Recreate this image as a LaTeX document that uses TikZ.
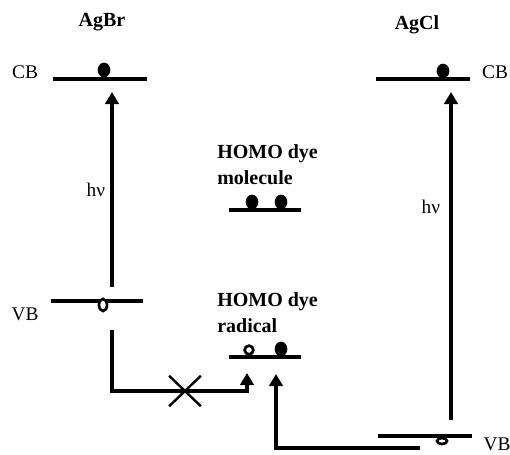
\documentclass[tikz,border=0pt]{standalone}
\usepackage{fontspec}
\setmainfont{Liberation Serif}
\usetikzlibrary{arrows.meta,shapes.geometric,shapes.misc}

\begin{document}
\begin{tikzpicture}[x=.75pt,y=-.75pt,>={Triangle[width=10pt,length=9pt]},
      level/.style={line width=2.4pt,draw=black},
      flow/.style={->,line width=2.4pt,draw=black},
      elec/.style={ellipse,fill=black,inner sep=0pt,minimum width=9.5pt,minimum height=11pt},
      hole/.style={ellipse,draw=black,fill=white,line width=2pt,inner sep=0pt},
      band/.style={font=\fontsize{14.5}{17}\selectfont,inner sep=0pt},
      title/.style={font=\fontsize{15}{20}\selectfont\bfseries,inner sep=0pt,align=left}]
    \useasboundingbox (0,0) rectangle (510,454);
    \node[title] (agbr) at (102,22) {AgBr};
    \node[title] (agcl) at (417,25) {AgCl};
    \draw[level] (53,79) -- (147,79);
    \node[elec] (brCBe) at (104,70) {};
    \node[band] (brCB) at (25,72) {CB};
    \draw[level] (376,79) -- (470,79);
    \node[elec] (clCBe) at (443,71) {};
    \node[band] (clCB) at (495,72) {CB};
    \draw[level] (51,301) -- (143,301);
    \node[hole,minimum width=6pt,minimum height=9pt] (brVBh) at (103,305) {};
    \node[band] (brVB) at (25,314) {VB};
    \draw[level] (378,436) -- (472,436);
    \node[hole,minimum width=7.5pt,minimum height=4.5pt] (clVBh) at (442,441) {};
    \node[band] (clVB) at (497,444) {VB};
    \node[title,anchor=north west] (mol) at (217,144) {HOMO dye\\molecule};
    \draw[level] (229,210) -- (301,210);
    \node[elec] (molA) at (252,202) {};
    \node[elec] (molB) at (281,202) {};
    \node[title,anchor=north west] (rad) at (217,292) {HOMO dye\\radical};
    \draw[level] (229,357) -- (301,357);
    \node[hole,minimum width=6.5pt,minimum height=6.5pt] (radh) at (249,350) {};
    \node[elec] (rade) at (281,349) {};
    \coordinate (brUp) at (112,287);
    \coordinate (brTop) at (112,92);
    \coordinate (clUp) at (451,420);
    \coordinate (clTop) at (451,92);
    \draw[flow] (brUp) -- node[band,left=4pt] {hν} (brTop);
    \draw[flow] (clUp) -- node[band,left=7pt,pos=.65] {hν} (clTop);
    \coordinate (brDown) at (112,330);
    \coordinate (radA) at (247,373);
    \coordinate (clDown) at (420,448);
    \coordinate (radB) at (276,374);
    \node[cross out,draw=black,line width=1.8pt,minimum width=22pt,minimum height=21pt,inner sep=0pt] (block) at (185,391) {};
    \draw[flow] (brDown) -- (brDown |- block) -| (radA);
    \draw[flow] (clDown) -| (radB);
\end{tikzpicture}
\end{document}
